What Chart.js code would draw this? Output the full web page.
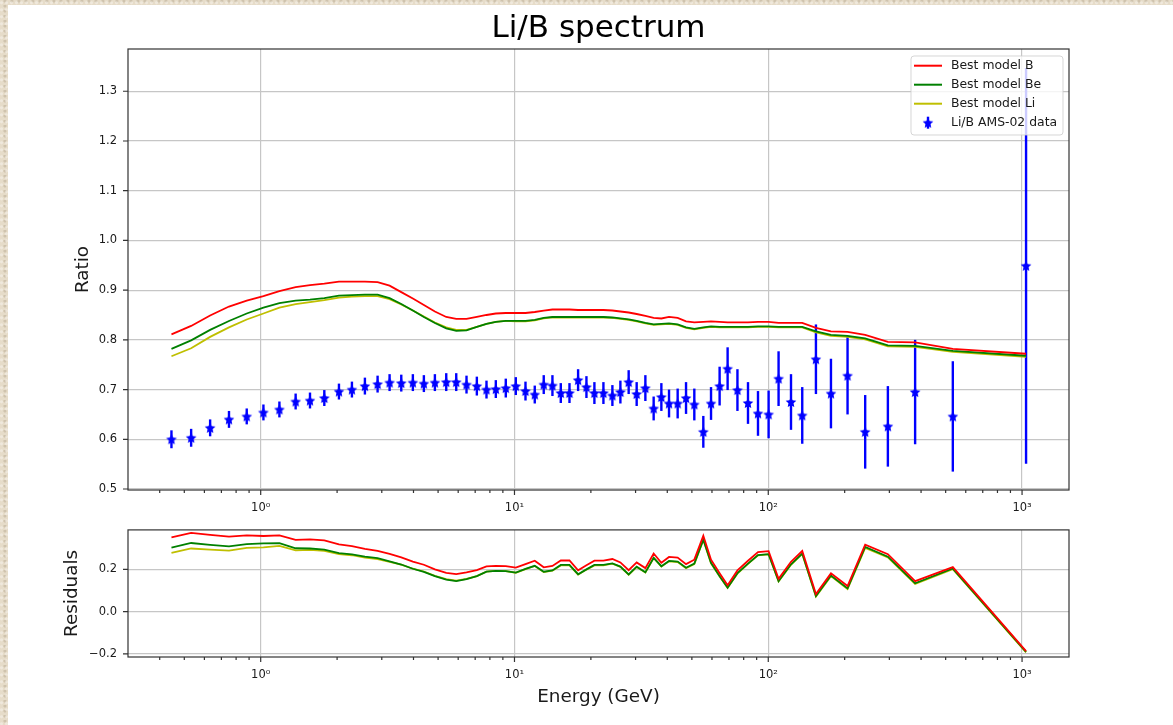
<!DOCTYPE html>
<html>
<head>
<meta charset="utf-8">
<title>Li/B spectrum</title>
<script src="https://cdn.jsdelivr.net/npm/chart.js@4.4.1/dist/chart.umd.min.js"></script>
<style>
  html, body { margin: 0; padding: 0; }
  body {
    width: 1173px; height: 725px; overflow: hidden; position: relative;
    background-color: #e6dcc9;
    background-image:
      radial-gradient(circle at 30% 40%, rgba(255,255,255,.35) 0 1px, rgba(0,0,0,0) 2px),
      radial-gradient(circle at 70% 20%, rgba(140,120,90,.25) 0 1px, rgba(0,0,0,0) 2px);
    background-size: 5px 7px, 7px 5px;
  }
  #sheet { position: absolute; left: 8px; top: 5px; right: 0; bottom: 0; background: #fff; }
  canvas { position: absolute; left: 0; }
  #ratio { top: 0; }
  #resid { top: 512px; }
</style>
</head>
<body>
<div id="sheet"></div>
<canvas id="ratio" width="1173" height="520"></canvas>
<canvas id="resid" width="1173" height="213"></canvas>
<script>
// Li/B AMS-02 points: energy (GeV), ratio, 1-sigma error
const energy = [0.445, 0.532, 0.632, 0.750, 0.881, 1.025, 1.185, 1.373, 1.564, 1.781,
  2.034, 2.288, 2.574, 2.888, 3.220, 3.580, 3.977, 4.395, 4.857, 5.384,
  5.895, 6.471, 7.107, 7.757, 8.442, 9.24, 10.12, 11.05, 12.02, 13.04,
  14.11, 15.22, 16.47, 17.81, 19.21, 20.65, 22.41, 24.31, 26.14, 28.18,
  30.30, 32.79, 35.35, 37.91, 40.64, 43.95, 47.42, 51.12, 55.47, 59.49,
  64.31, 69.15, 75.6, 83.2, 91.1, 100.3, 109.8, 122.9, 136.1, 154.1,
  176.6, 205.3, 240.9, 296, 379, 533.6, 1037];
const liB = [0.600, 0.603, 0.623, 0.640, 0.646, 0.654, 0.660, 0.676, 0.678, 0.683,
  0.696, 0.700, 0.707, 0.711, 0.714, 0.713, 0.714, 0.712, 0.714, 0.715,
  0.715, 0.710, 0.707, 0.700, 0.701, 0.703, 0.707, 0.697, 0.690, 0.710,
  0.708, 0.693, 0.693, 0.719, 0.705, 0.693, 0.693, 0.688, 0.695, 0.715,
  0.691, 0.703, 0.662, 0.685, 0.672, 0.672, 0.683, 0.670, 0.615, 0.672,
  0.707, 0.742, 0.699, 0.673, 0.652, 0.650, 0.722, 0.675, 0.648, 0.761,
  0.692, 0.728, 0.615, 0.626, 0.695, 0.646, 0.949];
const liBErr = [0.018, 0.018, 0.017, 0.017, 0.016, 0.016, 0.016, 0.016, 0.016, 0.016,
  0.016, 0.016, 0.017, 0.017, 0.017, 0.017, 0.017, 0.017, 0.017, 0.018,
  0.018, 0.018, 0.019, 0.018, 0.018, 0.019, 0.018, 0.019, 0.018, 0.019,
  0.021, 0.020, 0.020, 0.022, 0.022, 0.022, 0.022, 0.021, 0.023, 0.024,
  0.024, 0.026, 0.024, 0.028, 0.028, 0.030, 0.032, 0.032, 0.032, 0.033,
  0.039, 0.043, 0.042, 0.042, 0.045, 0.048, 0.055, 0.056, 0.057, 0.070,
  0.070, 0.078, 0.074, 0.081, 0.105, 0.111, 0.398];

// best-fit model ratios at the same energies
const modelB = [0.811, 0.828, 0.849, 0.867, 0.879, 0.888, 0.898, 0.906, 0.910, 0.913,
  0.917, 0.917, 0.917, 0.916, 0.909, 0.896, 0.883, 0.870, 0.857, 0.846,
  0.842, 0.842, 0.846, 0.850, 0.853, 0.854, 0.854, 0.854, 0.856, 0.859,
  0.861, 0.861, 0.861, 0.860, 0.860, 0.860, 0.860, 0.859, 0.857, 0.855,
  0.852, 0.848, 0.844, 0.843, 0.846, 0.844, 0.837, 0.835, 0.836, 0.837,
  0.836, 0.835, 0.835, 0.835, 0.836, 0.836, 0.834, 0.834, 0.834, 0.824,
  0.817, 0.816, 0.810, 0.796, 0.795, 0.782, 0.772];
const modelBe = [0.782, 0.799, 0.820, 0.838, 0.853, 0.865, 0.874, 0.879, 0.881, 0.884,
  0.889, 0.890, 0.891, 0.891, 0.884, 0.872, 0.859, 0.846, 0.834, 0.823,
  0.818, 0.819, 0.826, 0.832, 0.836, 0.838, 0.838, 0.838, 0.840, 0.844,
  0.846, 0.846, 0.846, 0.846, 0.846, 0.846, 0.846, 0.845, 0.843, 0.841,
  0.838, 0.834, 0.831, 0.832, 0.833, 0.831, 0.825, 0.822, 0.825, 0.827,
  0.826, 0.826, 0.826, 0.826, 0.827, 0.827, 0.826, 0.826, 0.826, 0.817,
  0.810, 0.808, 0.803, 0.789, 0.788, 0.778, 0.768];
const modelLi = [0.767, 0.783, 0.806, 0.825, 0.841, 0.853, 0.865, 0.872, 0.876, 0.880,
  0.885, 0.887, 0.888, 0.888, 0.882, 0.871, 0.859, 0.847, 0.835, 0.825,
  0.820, 0.820, 0.826, 0.832, 0.836, 0.838, 0.837, 0.837, 0.839, 0.843,
  0.845, 0.845, 0.845, 0.845, 0.845, 0.845, 0.845, 0.844, 0.842, 0.840,
  0.837, 0.833, 0.830, 0.831, 0.832, 0.830, 0.824, 0.821, 0.824, 0.826,
  0.825, 0.825, 0.825, 0.825, 0.826, 0.826, 0.825, 0.825, 0.825, 0.815,
  0.808, 0.806, 0.801, 0.787, 0.786, 0.776, 0.766];

// residuals (model - data) / data
const residB = [0.352, 0.373, 0.363, 0.355, 0.361, 0.358, 0.361, 0.340, 0.342, 0.337,
  0.318, 0.310, 0.297, 0.288, 0.273, 0.257, 0.237, 0.222, 0.200, 0.183,
  0.178, 0.186, 0.197, 0.214, 0.217, 0.215, 0.208, 0.225, 0.241, 0.210,
  0.216, 0.242, 0.242, 0.196, 0.220, 0.241, 0.241, 0.249, 0.233, 0.196,
  0.233, 0.206, 0.275, 0.231, 0.259, 0.256, 0.225, 0.246, 0.359, 0.246,
  0.182, 0.125, 0.195, 0.241, 0.282, 0.286, 0.155, 0.236, 0.287, 0.083,
  0.181, 0.121, 0.317, 0.272, 0.144, 0.211, -0.187];
const residBe = [0.303, 0.325, 0.316, 0.309, 0.320, 0.323, 0.324, 0.300, 0.299, 0.294,
  0.277, 0.271, 0.260, 0.253, 0.238, 0.223, 0.203, 0.188, 0.168, 0.151,
  0.144, 0.154, 0.168, 0.189, 0.193, 0.192, 0.185, 0.202, 0.217, 0.189,
  0.195, 0.221, 0.221, 0.177, 0.200, 0.221, 0.221, 0.228, 0.213, 0.176,
  0.213, 0.186, 0.255, 0.215, 0.240, 0.237, 0.208, 0.227, 0.341, 0.231,
  0.168, 0.113, 0.182, 0.227, 0.268, 0.272, 0.144, 0.224, 0.275, 0.074,
  0.171, 0.110, 0.306, 0.260, 0.134, 0.204, -0.191];
const residLi = [0.278, 0.299, 0.294, 0.289, 0.302, 0.304, 0.311, 0.290, 0.292, 0.288,
  0.272, 0.267, 0.256, 0.249, 0.235, 0.222, 0.203, 0.190, 0.169, 0.154,
  0.147, 0.155, 0.168, 0.189, 0.193, 0.192, 0.184, 0.201, 0.216, 0.187,
  0.194, 0.219, 0.219, 0.175, 0.199, 0.219, 0.219, 0.227, 0.212, 0.175,
  0.211, 0.185, 0.254, 0.213, 0.238, 0.235, 0.206, 0.225, 0.340, 0.229,
  0.167, 0.112, 0.180, 0.226, 0.267, 0.271, 0.143, 0.222, 0.273, 0.071,
  0.168, 0.107, 0.302, 0.257, 0.131, 0.201, -0.193];

// axis ticks and labels
const ratioTicks = [0.5, 0.6, 0.7, 0.8, 0.9, 1.0, 1.1, 1.2, 1.3];
const residTicks = [-0.2, 0.0, 0.2];
const residTickLabels = ['\u22120.2', '0.0', '0.2'];
const decadeTicks = [1, 10, 100, 1000];
const decadeLabels = ['10\u2070', '10\u00b9', '10\u00b2', '10\u00b3'];
const seriesNames = ['Best model B', 'Best model Be', 'Best model Li', 'Li/B AMS-02 data'];
const chartTitle = 'Li/B spectrum';

const COL = { B: '#ff0000', Be: '#008000', Li: '#bfbf00', data: '#0000ff' };
const GRID = '#c6c6c6';
const INK = '#1a1a1a';
const FONT = "'DejaVu Sans', sans-serif";
const E_MIN = 0.302, E_MAX = 1531;

Chart.defaults.font.family = FONT;
Chart.defaults.font.size = 11.5;
Chart.defaults.color = INK;

const xy = ys => energy.map((e, i) => ({ x: e, y: ys[i] }));

// decade + minor log ticks (2..9 x 10^n) inside the energy range
const logTicks = [];
[0.1, 1, 10, 100, 1000].forEach(d => {
  for (let k = 1; k <= 9; k++) {
    const v = k * d;
    if (v > E_MIN && v < E_MAX) logTicks.push({ value: v, major: k === 1 });
  }
});

// filled five-pointed star used as marker
function makeStar(r, color) {
  const c = document.createElement('canvas');
  const s = Math.ceil(r * 2) + 2;
  c.width = c.height = s;
  const g = c.getContext('2d');
  g.fillStyle = color;
  g.beginPath();
  for (let k = 0; k < 10; k++) {
    const rr = k % 2 ? r * 0.48 : r;
    const a = -Math.PI / 2 + k * Math.PI / 5;
    g.lineTo(s / 2 + rr * Math.cos(a), s / 2 + 0.5 + rr * Math.sin(a));
  }
  g.closePath();
  g.fill();
  return c;
}
const star = makeStar(5.6, COL.data);

function energyAxis(withTitle) {
  return {
    type: 'logarithmic', min: E_MIN, max: E_MAX,
    afterBuildTicks: s => { s.ticks = logTicks.map(t => ({ ...t })); },
    afterFit: s => { s.height = withTitle ? 68 : 30; },
    ticks: {
      autoSkip: false, maxRotation: 0, padding: 11,
      callback: v => { const i = decadeTicks.indexOf(v); return i < 0 ? '' : decadeLabels[i]; }
    },
    grid: { drawTicks: false, lineWidth: 1.2, color: c => (c.tick && c.tick.major ? GRID : 'rgba(0,0,0,0)') },
    border: { display: false },
    title: {
      display: withTitle, text: 'Energy (GeV)', color: INK,
      font: { size: 18.4 }, padding: { top: 0, bottom: 17 }
    }
  };
}

function valueAxis(min, max, ticks, labelFor, title, titlePad) {
  return {
    min, max,
    afterBuildTicks: s => { s.ticks = ticks.map(v => ({ value: v })); },
    afterFit: s => { s.width = 128; },
    ticks: { padding: 11, callback: labelFor },
    grid: { drawTicks: false, lineWidth: 1.2, color: GRID },
    border: { display: false },
    title: { display: true, text: title, color: INK, font: { size: 18.4 }, padding: { top: titlePad, bottom: 0 } }
  };
}

// title centred over the plotting area
const heading = {
  id: 'heading',
  afterDraw(chart) {
    const { ctx, chartArea: a } = chart;
    ctx.save();
    ctx.font = '31px ' + FONT;
    ctx.fillStyle = '#000';
    ctx.textAlign = 'center';
    ctx.textBaseline = 'alphabetic';
    ctx.fillText(chartTitle, (a.left + a.right) / 2, 37);
    ctx.restore();
  }
};

// axes box plus major/minor tick marks
const frame = {
  id: 'frame',
  afterDraw(chart) {
    const { ctx, chartArea: a, scales: { x, y } } = chart;
    ctx.save();
    ctx.strokeStyle = '#333';
    ctx.lineWidth = 1.2;
    ctx.beginPath();
    x.ticks.forEach(t => {
      const px = x.getPixelForValue(t.value);
      ctx.moveTo(px, a.bottom);
      ctx.lineTo(px, a.bottom + (t.major ? 5 : 3));
    });
    y.ticks.forEach(t => {
      const py = y.getPixelForValue(t.value);
      ctx.moveTo(a.left - 5, py);
      ctx.lineTo(a.left, py);
    });
    ctx.stroke();
    ctx.strokeRect(a.left, a.top, a.right - a.left, a.bottom - a.top);
    ctx.restore();
  }
};

// vertical error bars drawn under the data markers
const errorBars = {
  id: 'errorBars',
  beforeDatasetDraw(chart, args) {
    const ds = chart.data.datasets[args.index];
    if (!ds.errors) return;
    const { ctx, chartArea: a, scales: { x, y } } = chart;
    ctx.save();
    ctx.beginPath();
    ctx.rect(a.left, a.top, a.right - a.left, a.bottom - a.top);
    ctx.clip();
    ctx.strokeStyle = ds.borderColor;
    ctx.lineWidth = 2.4;
    ds.data.forEach((p, i) => {
      const px = x.getPixelForValue(p.x);
      ctx.beginPath();
      ctx.moveTo(px, y.getPixelForValue(p.y - ds.errors[i]));
      ctx.lineTo(px, y.getPixelForValue(p.y + ds.errors[i]));
      ctx.stroke();
    });
    ctx.restore();
  }
};

// framed legend in the upper right corner
const legendBox = {
  id: 'legendBox',
  afterDraw(chart) {
    const { ctx, chartArea: a } = chart;
    const w = 152, h = 79, r = 3;
    const x0 = a.right - 6 - w, y0 = a.top + 7;
    ctx.save();
    ctx.beginPath();
    ctx.moveTo(x0 + r, y0);
    ctx.arcTo(x0 + w, y0, x0 + w, y0 + h, r);
    ctx.arcTo(x0 + w, y0 + h, x0, y0 + h, r);
    ctx.arcTo(x0, y0 + h, x0, y0, r);
    ctx.arcTo(x0, y0, x0 + w, y0, r);
    ctx.closePath();
    ctx.fillStyle = 'rgba(255,255,255,0.8)';
    ctx.fill();
    ctx.strokeStyle = 'rgba(204,204,204,0.8)';
    ctx.lineWidth = 1;
    ctx.stroke();

    ctx.font = '12.4px ' + FONT;
    ctx.textBaseline = 'middle';
    ctx.fillStyle = INK;
    chart.data.datasets.forEach((ds, i) => {
      const cy = y0 + 9.7 + i * 19;
      ctx.strokeStyle = ds.borderColor;
      ctx.beginPath();
      if (ds.errors) {
        ctx.lineWidth = 2.4;
        ctx.moveTo(x0 + 17, cy - 6);
        ctx.lineTo(x0 + 17, cy + 6);
        ctx.stroke();
        ctx.drawImage(star, x0 + 17 - star.width / 2, cy - star.height / 2);
      } else {
        ctx.lineWidth = 2;
        ctx.moveTo(x0 + 3, cy);
        ctx.lineTo(x0 + 31, cy);
        ctx.stroke();
      }
      ctx.fillText(ds.label, x0 + 40, cy);
    });
    ctx.restore();
  }
};

const lineSet = (label, ys, color) => ({
  label, data: xy(ys), borderColor: color, backgroundColor: color,
  borderWidth: 1.8, pointRadius: 0, tension: 0, fill: false
});

const common = {
  responsive: false, animation: false, devicePixelRatio: 1,
  plugins: { legend: { display: false }, tooltip: { enabled: false } }
};

new Chart(document.getElementById('ratio'), {
  type: 'line',
  data: {
    datasets: [
      lineSet(seriesNames[0], modelB, COL.B),
      lineSet(seriesNames[1], modelBe, COL.Be),
      lineSet(seriesNames[2], modelLi, COL.Li),
      {
        label: seriesNames[3], data: xy(liB), errors: liBErr,
        borderColor: COL.data, backgroundColor: COL.data,
        showLine: false, pointStyle: star, pointRadius: 4
      }
    ]
  },
  options: {
    ...common,
    layout: { padding: { left: 0, right: 104, top: 49, bottom: 0 } },
    scales: {
      x: energyAxis(false),
      y: valueAxis(0.498, 1.385, ratioTicks, v => v.toFixed(1), 'Ratio', 72)
    }
  },
  plugins: [errorBars, frame, legendBox, heading]
});

new Chart(document.getElementById('resid'), {
  type: 'line',
  data: {
    datasets: [
      lineSet(seriesNames[0], residB, COL.B),
      lineSet(seriesNames[1], residBe, COL.Be),
      lineSet(seriesNames[2], residLi, COL.Li)
    ]
  },
  options: {
    ...common,
    layout: { padding: { left: 0, right: 104, top: 16, bottom: 0 } },
    scales: {
      x: energyAxis(true),
      y: valueAxis(-0.215, 0.387, residTicks,
        v => { const i = residTicks.indexOf(v); return i < 0 ? '' : residTickLabels[i]; },
        'Residuals', 60.7)
    }
  },
  plugins: [frame]
});
</script>
</body>
</html>
